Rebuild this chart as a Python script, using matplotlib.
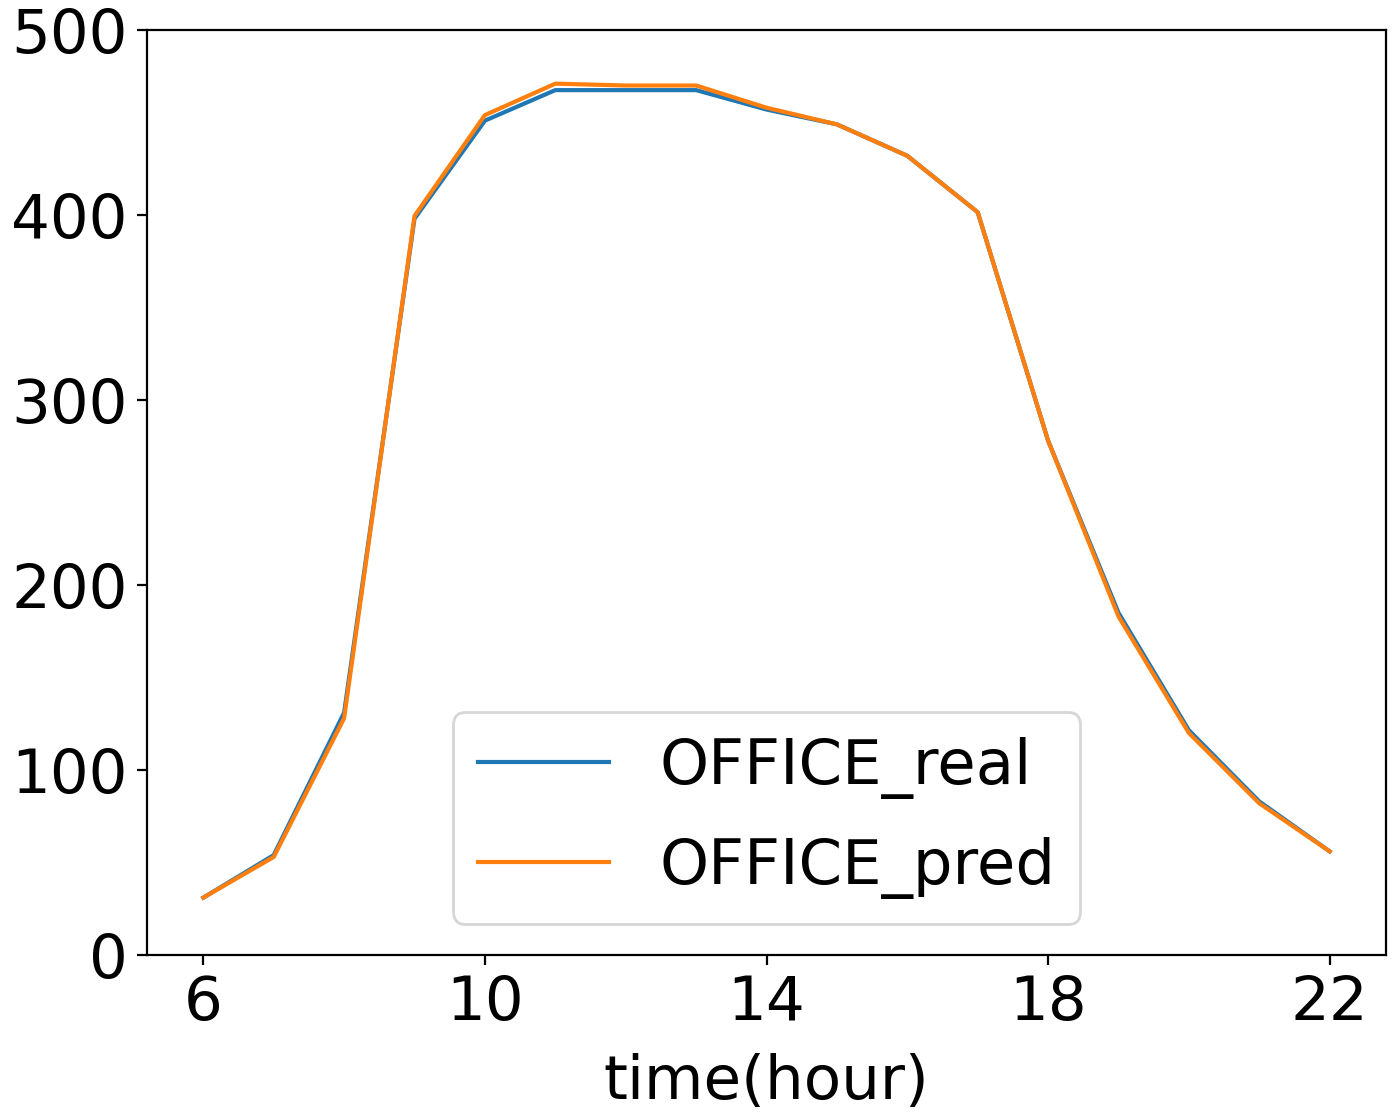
import numpy as np
import matplotlib
matplotlib.use("Agg")
import matplotlib.pyplot as plt

# hourly values
hours = np.arange(6, 23)
office_real = [31, 54, 131, 398, 451, 467.5, 467.5, 467.5, 457, 449, 432, 401.5, 278, 185, 121.5, 83, 56]
office_pred = [31, 53, 128, 399.5, 454, 471, 470, 470, 458, 449, 432, 401.5, 278, 183, 120, 82, 56]
xticks = [6, 10, 14, 18, 22]

plt.rcParams['font.size'] = 22

fig = plt.figure(figsize=(1399 / 200, 1114 / 200), dpi=200)
ax = fig.add_axes([147 / 1399, 159 / 1114, 1239 / 1399, 925 / 1114])

ax.plot(hours, office_real, label="OFFICE_real")
ax.plot(hours, office_pred, label="OFFICE_pred")
ax.set_ylim(0, 500)
ax.set_xticks(xticks)
ax.set_xlabel("time(hour)", labelpad=7)
ax.legend(loc="lower center", handlelength=2.1, fontsize=22.5, labelspacing=0.6)

fig.savefig("out.png", dpi=200)
